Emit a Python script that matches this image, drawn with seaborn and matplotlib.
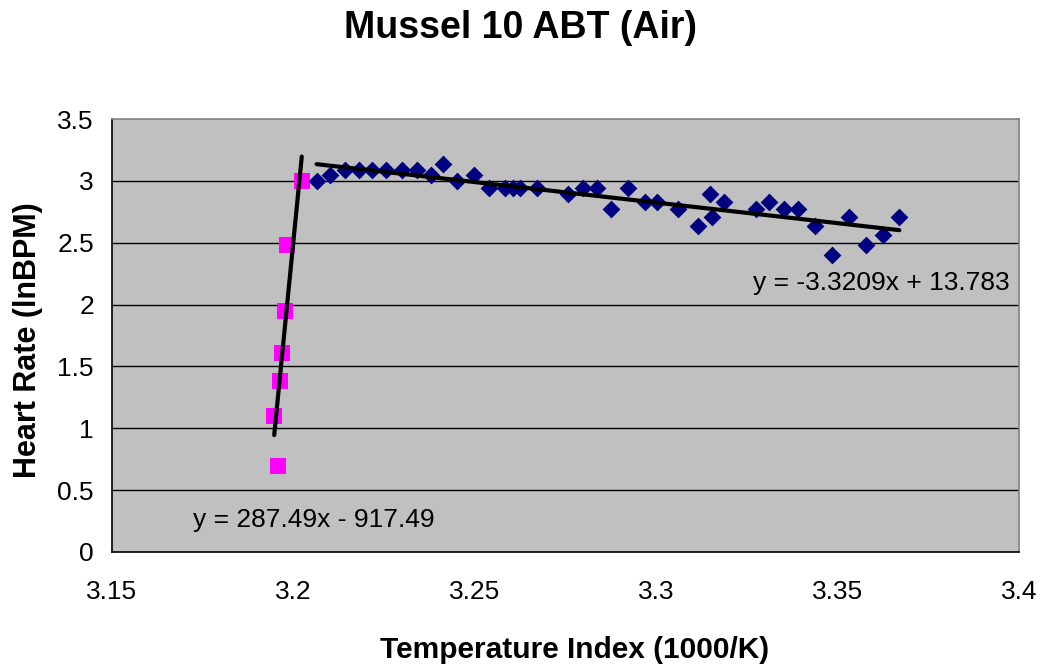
import numpy as np
import pandas as pd
import matplotlib
matplotlib.use("Agg")
import matplotlib.pyplot as plt
import seaborn as sns

# Data
phase1_x = [3.1947, 3.1957, 3.1963, 3.1969, 3.1977, 3.1982, 3.2023]
phase1_y = [1.099, 0.693, 1.386, 1.609, 1.946, 2.485, 2.996]

phase2_x = [3.2064, 3.2101, 3.2142, 3.2182, 3.2216, 3.2254, 3.2300, 3.2340,
            3.2379, 3.2413, 3.2452, 3.2498, 3.2539, 3.2583, 3.2606, 3.2625,
            3.2671, 3.2758, 3.2797, 3.2836, 3.2875, 3.2921, 3.2969, 3.3001,
            3.3061, 3.3114, 3.3148, 3.3155, 3.3187, 3.3274, 3.3312, 3.3352,
            3.3392, 3.3438, 3.3484, 3.3531, 3.3578, 3.3624, 3.3670]
phase2_y = [2.996, 3.045, 3.091, 3.091, 3.091, 3.091, 3.091, 3.091,
            3.045, 3.135, 2.996, 3.045, 2.944, 2.944, 2.944, 2.944,
            2.944, 2.890, 2.944, 2.944, 2.773, 2.944, 2.833, 2.833,
            2.773, 2.639, 2.890, 2.708, 2.833, 2.773, 2.833, 2.773,
            2.773, 2.639, 2.398, 2.708, 2.485, 2.565, 2.708]

eq1_text = "y = 287.49x - 917.49"
eq2_text = "y = -3.3209x + 13.783"
title = "Mussel 10 ABT (Air)"
xlabel = "Temperature Index (1000/K)"
ylabel = "Heart Rate (lnBPM)"
x_ticks = [3.15, 3.2, 3.25, 3.3, 3.35, 3.4]
y_ticks = [0, 0.5, 1, 1.5, 2, 2.5, 3, 3.5]

sns.set_theme(style="white")
plt.rcParams["font.family"] = ["Liberation Sans", "DejaVu Sans"]

fig = plt.figure(figsize=(10.42, 6.66), dpi=100)
ax = fig.add_axes([0.1075, 0.1712, 0.8705, 0.6501])
ax.set_facecolor("#C0C0C0")

for yt in y_ticks[1:-1]:
    ax.axhline(yt, color="#000000", lw=1.0, zorder=1)

df1 = pd.DataFrame({"x": phase1_x, "y": phase1_y})
df2 = pd.DataFrame({"x": phase2_x, "y": phase2_y})

sns.scatterplot(data=df1, x="x", y="y", ax=ax, marker="s", s=145,
                color="#FF00FF", edgecolor="#FF00FF", linewidth=0, zorder=3)
sns.scatterplot(data=df2, x="x", y="y", ax=ax, marker="D", s=82,
                color="#000080", edgecolor="#000080", linewidth=0, zorder=3)

# Linear trend lines
for xs, ys in [(phase1_x, phase1_y), (phase2_x, phase2_y)]:
    m, b = np.polyfit(xs, ys, 1)
    xx = np.array([min(xs), max(xs)])
    ax.plot(xx, m * xx + b, color="black", lw=3.0, zorder=4)

ax.text(3.1723, 0.26, eq1_text, fontsize=19, va="center", ha="left", color="black")
ax.text(3.3267, 2.175, eq2_text, fontsize=19, va="center", ha="left", color="black")

ax.set_xlim(3.15, 3.4)
ax.set_ylim(0, 3.5)
ax.set_xticks(x_ticks)
ax.set_xticklabels([f"{v:g}" for v in x_ticks])
ax.set_yticks(y_ticks)
ax.set_yticklabels([f"{v:g}" for v in y_ticks])
ax.tick_params(axis="both", which="both", direction="out", length=5, width=1,
               color="black", labelsize=19, labelcolor="black")
ax.tick_params(axis="x", pad=15)
ax.tick_params(axis="y", pad=8)

for side in ["left", "bottom"]:
    ax.spines[side].set_color("#000000")
    ax.spines[side].set_linewidth(1.2)
for side in ["top", "right"]:
    ax.spines[side].set_color("#808080")
    ax.spines[side].set_linewidth(1.2)
    ax.spines[side].set_visible(True)

ax.set_xlabel(xlabel, fontsize=21.5, fontweight="bold", color="black", va="center")
ax.xaxis.set_label_coords(0.510, -0.226)
ax.set_ylabel(ylabel, fontsize=22, fontweight="bold", color="black", va="center")
ax.yaxis.set_label_coords(-0.093, 0.49)
fig.text(0.5, 1 - 28 / 666, title, fontsize=27, fontweight="bold",
         ha="center", va="center", color="black")

fig.savefig("out.png", dpi=100)
